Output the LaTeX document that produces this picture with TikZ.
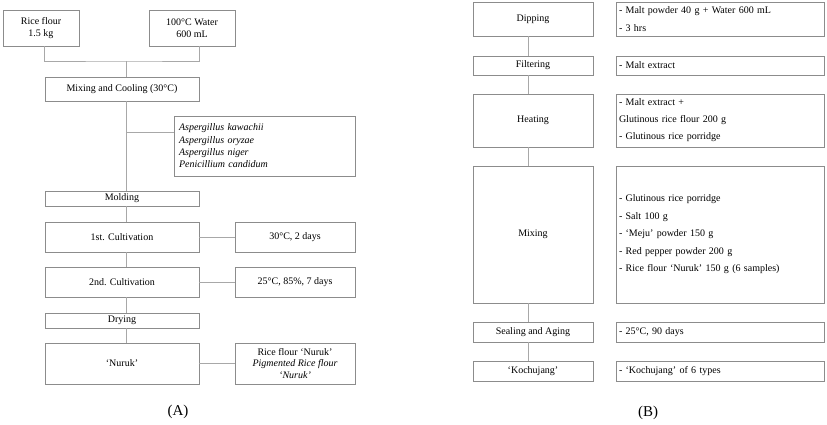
\documentclass[tikz,border=0pt]{standalone}
\usepackage{fontspec}
\setmainfont{Liberation Serif}
\usetikzlibrary{positioning,calc}
\definecolor{flowln}{HTML}{A8A8A8}
\definecolor{flowbd}{HTML}{8C8C8C}

\begin{document}
\begin{tikzpicture}[x=1pt,y=-1pt,
  font=\fontsize{10}{11.5}\selectfont,
  stepbox/.style={draw=flowbd,line width=0.7pt,inner sep=0pt,align=center},
  notebox/.style={stepbox,align=left,inner xsep=3pt,text width=202pt,
    font=\fontsize{10}{17.5}\selectfont},
  sz/.style 2 args={minimum width=#1pt,minimum height=#2pt},
  link/.style={draw=flowln,line width=0.7pt}]
\useasboundingbox (0,0) rectangle (827,424);

% (A) nuruk
\node[stepbox,sz={76}{36}] (rice) at (41,28) {Rice flour\\1.5 kg};
\node[stepbox,sz={86}{36}] (water) at (192,28) {100°C Water\\600 mL};
\node[stepbox,sz={154}{24}] (mixc) at (122,89) {Mixing and Cooling (30°C)};
\node[stepbox,sz={181}{60},align=left,text width=171pt,inner xsep=5pt,
  font=\fontsize{10}{12.3}\selectfont\itshape] (fungi) at (264.5,146)
  {Aspergillus kawachii\\Aspergillus oryzae\\Aspergillus niger\\Penicillium candidum};
\node[stepbox,sz={154}{15}] (mold) at (122,198.5) {Molding};
\node[stepbox,sz={154}{30}] (cultA) at (122,237) {1st. Cultivation};
\node[stepbox,sz={120}{30}] (condA) at (295,237) {30°C, 2 days};
\node[stepbox,sz={154}{30}] (cultB) at (122,282) {2nd. Cultivation};
\node[stepbox,sz={120}{30}] (condB) at (295,282) {25°C, 85\%, 7 days};
\node[stepbox,sz={154}{15}] (dry) at (122,320.5) {Drying};
\node[stepbox,sz={154}{41}] (nuruk) at (122,363.5) {`Nuruk'};
\node[stepbox,sz={120}{41},font=\fontsize{10}{11.8}\selectfont] (prod) at (295,363.5)
  {Rice flour `Nuruk'\\\textit{Pigmented Rice flour}\\\textit{`Nuruk'}};
\node[font=\fontsize{15}{17}\selectfont] (labA) at (178,412) {(A)};

\coordinate (spA) at (126,61);
\draw[link] (rice.south -| mixc.west) |- (spA) -| (water.south -| mixc.east);
\draw[link] (spA) -- (mixc.north -| spA);
\draw[link] (mixc.south -| spA) -- (mold.north -| spA);
\draw[link] ([yshift=14pt]fungi.west -| spA) -- ([yshift=14pt]fungi.west);
\draw[link] (mold.south -| spA) -- (cultA.north -| spA);
\draw[link] (cultA.south -| spA) -- (cultB.north -| spA);
\draw[link] (cultB.south -| spA) -- (dry.north -| spA);
\draw[link] (dry.south -| spA) -- (nuruk.north -| spA);
\draw[link] (cultA.east) -- (condA.west);
\draw[link] (cultB.east) -- (condB.west);
\draw[link] (nuruk.east) -- (prod.west);

% (B) kochujang
\node[stepbox,sz={120}{34}] (dip) at (533,19) {Dipping};
\node[notebox,sz={208}{34}] (dipn) at (720,19)
  {- Malt powder 40 g + Water 600 mL\\- 3 hrs};
\node[stepbox,sz={120}{19}] (filt) at (533,65.5) {Filtering};
\node[notebox,sz={208}{19}] (filtn) at (720,65.5) {- Malt extract};
\node[stepbox,sz={120}{53}] (heat) at (533,120.5) {Heating};
\node[notebox,sz={208}{53},font=\fontsize{10}{17}\selectfont] (heatn) at (720,120.5)
  {- Malt extract +\\Glutinous rice flour 200 g\\- Glutinous rice porridge};
\node[stepbox,sz={120}{137}] (mixb) at (533,234.5) {Mixing};
\node[notebox,sz={208}{137}] (mixn) at (720,234.5)
  {- Glutinous rice porridge\\- Salt 100 g\\- `Meju' powder 150 g\\
   - Red pepper powder 200 g\\- Rice flour `Nuruk' 150 g (6 samples)};
\node[stepbox,sz={120}{20}] (seal) at (533,332) {Sealing and Aging};
\node[notebox,sz={208}{20}] (sealn) at (720,332) {- 25°C, 90 days};
\node[stepbox,sz={120}{20}] (koch) at (533,371) {`Kochujang'};
\node[notebox,sz={208}{20}] (kochn) at (720,371) {- `Kochujang' of 6 types};
\node[font=\fontsize{15}{17}\selectfont] (labB) at (648,413) {(B)};

\coordinate (spB) at (528,0);
\draw[link] (dip.south -| spB) -- (filt.north -| spB);
\draw[link] (filt.south -| spB) -- (heat.north -| spB);
\draw[link] (heat.south -| spB) -- (mixb.north -| spB);
\draw[link] (mixb.south -| spB) -- (seal.north -| spB);
\draw[link] (seal.south -| spB) -- (koch.north -| spB);
\end{tikzpicture}
\end{document}
